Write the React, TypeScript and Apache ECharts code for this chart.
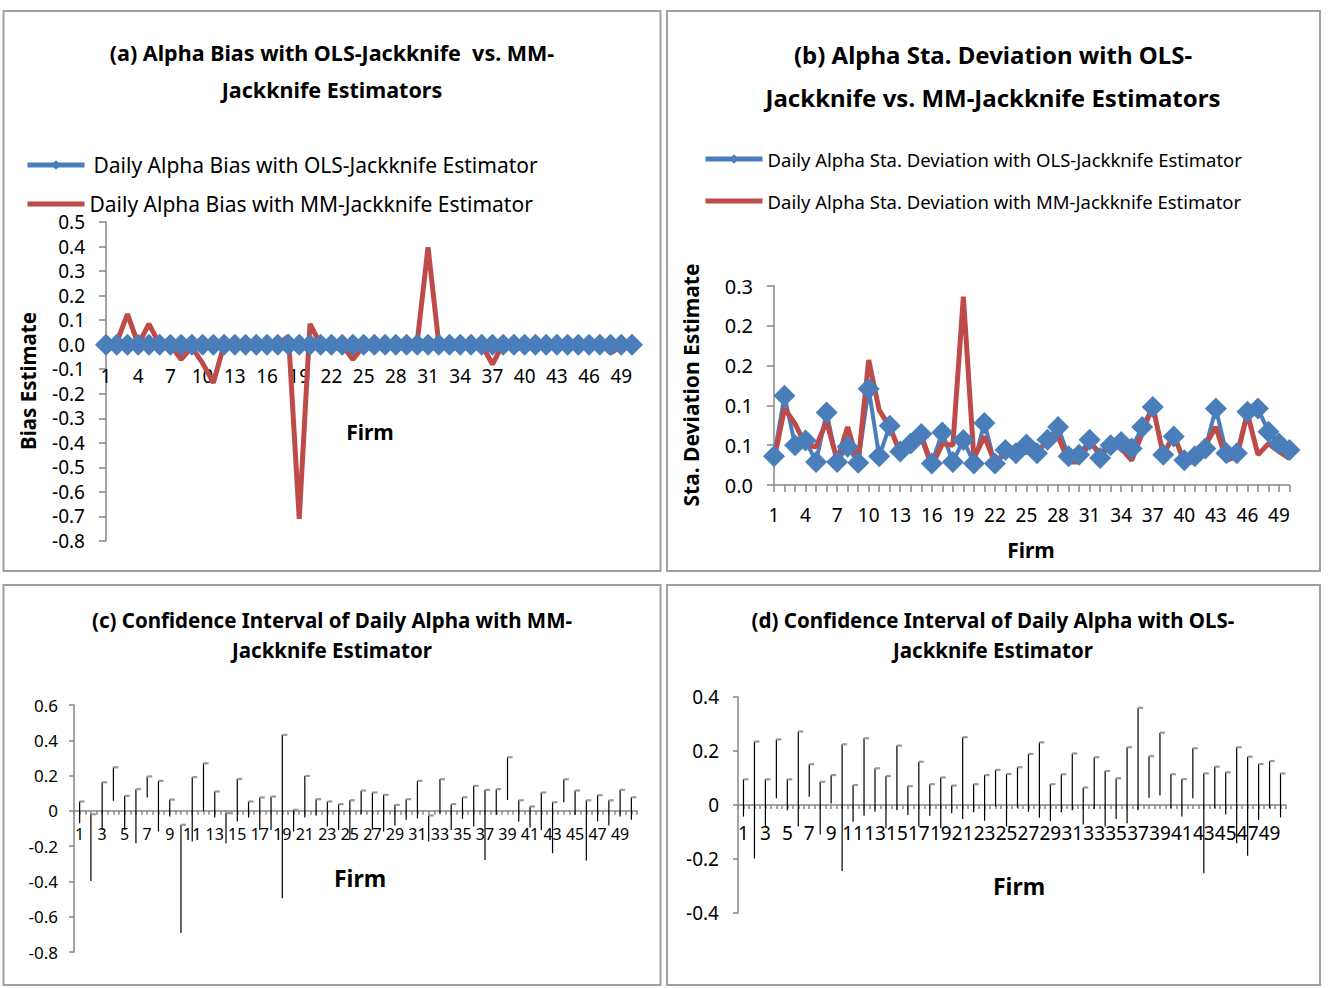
import React, { useEffect, useRef } from 'react';
import * as echarts from 'echarts';

const FONT = '"Noto Sans", "Open Sans", sans-serif';

const firms = Array.from({ length: 50 }, (_, i) => String(i + 1));

const nameA1 = 'Daily Alpha Bias with OLS-Jackknife Estimator';
const nameA2 = 'Daily Alpha Bias with MM-Jackknife Estimator';
const nameB1 = 'Daily Alpha Sta. Deviation with OLS-Jackknife Estimator';
const nameB2 = 'Daily Alpha Sta. Deviation with MM-Jackknife Estimator';

// (a) Alpha bias
const biasOLS = [
  0, 0, 0, 0, 0, 0, 0, 0, 0, 0,
  0, 0, 0, 0, 0, 0, 0, 0, 0, 0,
  0, 0, 0, 0, 0, 0, 0, 0, 0, 0,
  0, 0, 0, 0, 0, 0, 0, 0, 0, 0,
  0, 0, 0, 0, 0, 0, 0, 0, 0, 0,
];
const biasMM = [
  0.005, 0.01, 0.125, 0.0, 0.085, 0.0, 0.0, -0.06, -0.01, -0.075,
  -0.155, 0.0, 0.005, 0.015, 0.0, 0.0, 0.0, 0.035, -0.71, 0.085,
  0.0, 0.0, 0.0, -0.06, -0.005, 0.0, 0.0, 0.0, 0.0, 0.015,
  0.397, 0.005, 0.0, 0.0, 0.0, 0.0, -0.08, 0.005, 0.005, 0.005,
  0.016, -0.014, 0.003, 0.003, 0.003, -0.016, 0.007, -0.034, -0.007, 0.003,
];

// (b) Alpha standard deviation
const sdOLS = [
  0.036, 0.112, 0.05, 0.056, 0.029, 0.091, 0.029, 0.048, 0.028, 0.121,
  0.036, 0.0745, 0.042, 0.052, 0.064, 0.027, 0.066, 0.029, 0.0565, 0.027,
  0.078, 0.027, 0.044, 0.04, 0.051, 0.04, 0.057, 0.073, 0.036, 0.038,
  0.057, 0.034, 0.05, 0.054, 0.046, 0.073, 0.098, 0.038, 0.061, 0.031,
  0.036, 0.046, 0.096, 0.04, 0.04, 0.092, 0.096, 0.067, 0.052, 0.044,
];
const sdMM = [
  0.031, 0.096, 0.077, 0.05, 0.048, 0.08, 0.031, 0.073, 0.028, 0.157,
  0.094, 0.073, 0.04, 0.046, 0.061, 0.023, 0.052, 0.05, 0.2366, 0.0335,
  0.061, 0.028, 0.04, 0.049, 0.049, 0.04, 0.057, 0.061, 0.029, 0.029,
  0.054, 0.04, 0.05, 0.046, 0.031, 0.065, 0.1, 0.038, 0.063, 0.029,
  0.029, 0.05, 0.073, 0.031, 0.036, 0.09, 0.038, 0.052, 0.042, 0.0335,
];

// (c) CI with MM-Jackknife
const ciMMHigh = [
  0.053, -0.019, 0.162, 0.247, 0.085, 0.123, 0.195, 0.17, 0.064, -0.079,
  0.191, 0.27, 0.11, -0.013, 0.181, 0.053, 0.076, 0.081, 0.431, 0.006,
  0.198, 0.066, 0.053, 0.038, 0.06, 0.115, 0.104, 0.091, 0.034, 0.066,
  0.17, -0.026, 0.179, 0.038, 0.077, 0.142, 0.119, 0.123, 0.304, 0.06,
  0.025, 0.104, 0.049, 0.179, 0.115, 0.06, 0.089, 0.06, 0.119, 0.077,
];
const ciMMLow = [
  -0.07, -0.397, -0.108, 0.057, -0.108, -0.183, 0.076, -0.117, -0.032, -0.693,
  -0.174, 0.0, -0.038, -0.183, -0.06, -0.038, -0.108, -0.108, -0.495, -0.117,
  -0.038, -0.026, -0.089, -0.108, -0.164, -0.019, -0.108, -0.117, -0.083, -0.051,
  -0.042, -0.174, -0.013, -0.108, -0.045, -0.089, -0.278, -0.023, 0.062, -0.06,
  -0.094, -0.108, -0.24, 0.049, -0.023, -0.281, -0.06, -0.083, -0.032, -0.051,
];

// (d) CI with OLS-Jackknife
const ciOLSHigh = [
  0.095, 0.235, 0.095, 0.243, 0.095, 0.272, 0.151, 0.086, 0.111, 0.225,
  0.074, 0.247, 0.136, 0.107, 0.22, 0.07, 0.16, 0.077, 0.102, 0.072,
  0.251, 0.077, 0.111, 0.13, 0.115, 0.14, 0.189, 0.232, 0.077, 0.114,
  0.191, 0.065, 0.177, 0.126, 0.099, 0.214, 0.36, 0.181, 0.268, 0.114,
  0.096, 0.21, 0.117, 0.142, 0.121, 0.214, 0.179, 0.152, 0.163, 0.117,
];
const ciOLSLow = [
  -0.043, -0.198, -0.08, 0.025, -0.019, -0.08, 0.031, -0.109, 0.006, -0.244,
  -0.062, -0.04, -0.025, -0.086, -0.019, -0.037, -0.08, -0.04, -0.086, -0.031,
  -0.052, -0.027, -0.058, -0.006, -0.08, -0.01, -0.025, -0.047, -0.059, -0.027,
  -0.019, -0.072, -0.015, -0.08, -0.052, -0.068, -0.019, 0.027, 0.035, -0.012,
  -0.043, 0.025, -0.253, -0.012, -0.035, -0.142, -0.188, -0.056, -0.012, -0.046,
];

const BLUE = '#4A7EBB';
const RED = '#BE4B48';
const AXIS = '#868686';
// legend icon: a 5px-thick bar centred in a 12px-high box
const BAR_ICON =
  'path://M0,0L0.01,0L0,0.01Z M0,3.5L57,3.5L57,8.5L0,8.5Z M57,12L56.99,12L57,11.99Z';

const ciRender = (params: any, api: any) => {
  const i = api.value(0);
  const top = api.coord([i, api.value(1)]);
  const bot = api.coord([i, api.value(2)]);
  return {
    type: 'group',
    children: [
      {
        type: 'line',
        shape: { x1: top[0], y1: top[1], x2: bot[0], y2: bot[1] },
        style: { stroke: '#000', lineWidth: 1.2 },
      },
      {
        type: 'line',
        shape: { x1: top[0], y1: top[1], x2: top[0] + 5, y2: top[1] },
        style: { stroke: '#999', lineWidth: 2.2 },
      },
    ],
  };
};

const label = (size: number, extra: any = {}) => ({
  color: '#000',
  fontSize: size,
  fontFamily: FONT,
  ...extra,
});

export default function App() {
  const ref = useRef<HTMLDivElement>(null);
  useEffect(() => {
    const chart = echarts.init(ref.current!, null, { renderer: 'svg' });
    const axisLine = { lineStyle: { color: AXIS, width: 1.5 } };
    const tick = (len: number) => ({ show: true, length: len, lineStyle: { color: AXIS, width: 1.5 } });
    // grid geometry (used for placing the category axes on the zero line)
    const gA = { left: 106, top: 222, width: 526, height: 319 };
    const gB = { left: 774, top: 286, width: 515.5, height: 199 };
    const gC = { left: 74, top: 705, width: 563, height: 247 };
    const gD = { left: 738, top: 697, width: 548, height: 216 };
    const zeroOffset = (g: any, min: number, max: number) => -(g.height * (0 - min)) / (max - min);
    const offA = zeroOffset(gA, -0.8, 0.5);
    const offC = zeroOffset(gC, -0.8, 0.6);
    const offD = zeroOffset(gD, -0.4, 0.4);
    const option: any = {
      animation: false,
      backgroundColor: '#fff',
      textStyle: { fontFamily: FONT },
      grid: [gA, gB, gC, gD],
      legend: [
        {
          data: [
            { name: nameA1, textStyle: { padding: [0, 0, 0, 4] } },
            { name: nameA2, icon: BAR_ICON },
          ],
          orient: 'vertical',
          left: 25,
          top: 153,
          padding: 0,
          itemWidth: 57,
          itemHeight: 12,
          itemGap: 15,
          selectedMode: false,
          lineStyle: { width: 5 },
          textStyle: label(21, { lineHeight: 24 }),
        },
        {
          data: [nameB1, { name: nameB2, icon: BAR_ICON }],
          orient: 'vertical',
          left: 703,
          top: 149,
          padding: 0,
          itemWidth: 57,
          itemHeight: 12,
          itemGap: 22,
          selectedMode: false,
          lineStyle: { width: 5 },
          textStyle: label(18.5, { lineHeight: 20 }),
        },
      ],
      xAxis: [
        {
          gridIndex: 0, type: 'category', data: firms, boundaryGap: false, position: 'bottom', offset: offA,
          axisLine: { onZero: false, ...axisLine }, axisTick: { show: false },
          axisLabel: label(19, { interval: 2, margin: 22 }), splitLine: { show: false },
        },
        {
          gridIndex: 1, type: 'category', data: firms, boundaryGap: false, position: 'bottom',
          axisLine: { onZero: false, ...axisLine }, axisTick: { ...tick(7), interval: 0 },
          axisLabel: label(19, { interval: 2, margin: 20 }), splitLine: { show: false },
        },
        {
          gridIndex: 2, type: 'category', data: firms, boundaryGap: true, position: 'bottom', offset: offC,
          axisLine: { onZero: false, ...axisLine }, axisTick: { ...tick(4), interval: 0 },
          axisLabel: label(16, { interval: 1, margin: 15 }), splitLine: { show: false },
        },
        {
          gridIndex: 2, type: 'category', data: firms, boundaryGap: true, position: 'bottom', offset: offC,
          axisLine: { onZero: false, show: false }, axisTick: { ...tick(4), interval: 0, alignWithLabel: true },
          axisLabel: { show: false }, splitLine: { show: false },
        },
        {
          gridIndex: 3, type: 'category', data: firms, boundaryGap: true, position: 'bottom', offset: offD,
          axisLine: { onZero: false, ...axisLine }, axisTick: { ...tick(4), interval: 0 },
          axisLabel: label(19, { interval: 1, margin: 18 }), splitLine: { show: false },
        },
        {
          gridIndex: 3, type: 'category', data: firms, boundaryGap: true, position: 'bottom', offset: offD,
          axisLine: { onZero: false, show: false }, axisTick: { ...tick(4), interval: 0, alignWithLabel: true },
          axisLabel: { show: false }, splitLine: { show: false },
        },
      ],
      yAxis: [
        {
          gridIndex: 0, type: 'value', min: -0.8, max: 0.5, interval: 0.1,
          axisLine: { show: true, ...axisLine }, axisTick: tick(7),
          axisLabel: label(19, { margin: 21, formatter: (v: number) => v.toFixed(1) }),
          splitLine: { show: false },
        },
        {
          gridIndex: 1, type: 'value', min: 0, max: 0.25, interval: 0.05,
          axisLine: { show: true, ...axisLine }, axisTick: tick(7),
          axisLabel: label(20, {
            margin: 21,
            formatter: (v: number) => (Math.round(v * 10 + 1e-9) / 10).toFixed(1),
          }),
          splitLine: { show: false },
        },
        {
          gridIndex: 2, type: 'value', min: -0.8, max: 0.6, interval: 0.2,
          axisLine: { show: true, ...axisLine }, axisTick: tick(5),
          axisLabel: label(17, { margin: 16 }),
          splitLine: { show: false },
        },
        {
          gridIndex: 3, type: 'value', min: -0.4, max: 0.4, interval: 0.2,
          axisLine: { show: true, ...axisLine }, axisTick: tick(5),
          axisLabel: label(19, { margin: 19 }),
          splitLine: { show: false },
        },
      ],
      series: [
        {
          name: nameA1, type: 'line', xAxisIndex: 0, yAxisIndex: 0, data: biasOLS,
          color: BLUE, symbol: 'diamond', symbolSize: 22, showAllSymbol: true,
          lineStyle: { width: 4, color: BLUE }, itemStyle: { color: BLUE, borderWidth: 0 },
        },
        {
          name: nameA2, type: 'line', xAxisIndex: 0, yAxisIndex: 0, data: biasMM,
          color: RED, symbol: 'none', lineStyle: { width: 5, color: RED }, itemStyle: { color: RED },
        },
        {
          name: nameB1, type: 'line', xAxisIndex: 1, yAxisIndex: 1, data: sdOLS,
          color: BLUE, symbol: 'diamond', symbolSize: 22, showAllSymbol: true,
          lineStyle: { width: 4, color: BLUE }, itemStyle: { color: BLUE, borderWidth: 0 },
        },
        {
          name: nameB2, type: 'line', xAxisIndex: 1, yAxisIndex: 1, data: sdMM,
          color: RED, symbol: 'none', lineStyle: { width: 5, color: RED }, itemStyle: { color: RED },
        },
        {
          name: 'CI MM', type: 'custom', xAxisIndex: 2, yAxisIndex: 2,
          data: firms.map((_, i) => [i, ciMMHigh[i], ciMMLow[i]]),
          encode: { x: 0, y: [1, 2] }, renderItem: ciRender,
        },
        {
          name: 'CI OLS', type: 'custom', xAxisIndex: 4, yAxisIndex: 3,
          data: firms.map((_, i) => [i, ciOLSHigh[i], ciOLSLow[i]]),
          encode: { x: 0, y: [1, 2] }, renderItem: ciRender,
        },
      ],
      graphic: [
        { type: 'rect', shape: { x: 3.5, y: 11, width: 657, height: 560 }, style: { fill: 'none', stroke: '#A0A0A0', lineWidth: 2 } },
        { type: 'rect', shape: { x: 667, y: 11, width: 653, height: 560 }, style: { fill: 'none', stroke: '#A0A0A0', lineWidth: 2 } },
        { type: 'rect', shape: { x: 3.5, y: 585, width: 657, height: 400 }, style: { fill: 'none', stroke: '#A0A0A0', lineWidth: 2 } },
        { type: 'rect', shape: { x: 667, y: 585, width: 653, height: 400 }, style: { fill: 'none', stroke: '#A0A0A0', lineWidth: 2 } },
        {
          type: 'text', x: 332, y: 70.5,
          style: { text: '(a) Alpha Bias with OLS-Jackknife  vs. MM-\nJackknife Estimators', fill: '#000', font: `bold 21.5px ${FONT}`, align: 'center', verticalAlign: 'middle', lineHeight: 37 },
        },
        {
          type: 'text', x: 993, y: 75.5,
          style: { text: '(b) Alpha Sta. Deviation with OLS-\nJackknife vs. MM-Jackknife Estimators', fill: '#000', font: `bold 24px ${FONT}`, align: 'center', verticalAlign: 'middle', lineHeight: 43 },
        },
        {
          type: 'text', x: 332, y: 635,
          style: { text: '(c) Confidence Interval of Daily Alpha with MM-\nJackknife Estimator', fill: '#000', font: `bold 20.5px ${FONT}`, align: 'center', verticalAlign: 'middle', lineHeight: 30 },
        },
        {
          type: 'text', x: 993, y: 635,
          style: { text: '(d) Confidence Interval of Daily Alpha with OLS-\nJackknife Estimator', fill: '#000', font: `bold 20.5px ${FONT}`, align: 'center', verticalAlign: 'middle', lineHeight: 30 },
        },
        {
          type: 'text', x: 28, y: 381, rotation: Math.PI / 2,
          style: { text: 'Bias Estimate', fill: '#000', font: `bold 20.5px ${FONT}`, align: 'center', verticalAlign: 'middle' },
        },
        {
          type: 'text', x: 691, y: 385, rotation: Math.PI / 2,
          style: { text: 'Sta. Deviation Estimate', fill: '#000', font: `bold 21px ${FONT}`, align: 'center', verticalAlign: 'middle' },
        },
        { type: 'text', x: 370, y: 432, style: { text: 'Firm', fill: '#000', font: `bold 21px ${FONT}`, align: 'center', verticalAlign: 'middle' } },
        { type: 'text', x: 1031, y: 550, style: { text: 'Firm', fill: '#000', font: `bold 21px ${FONT}`, align: 'center', verticalAlign: 'middle' } },
        { type: 'text', x: 360, y: 878, style: { text: 'Firm', fill: '#000', font: `bold 23px ${FONT}`, align: 'center', verticalAlign: 'middle' } },
        { type: 'text', x: 1019, y: 886, style: { text: 'Firm', fill: '#000', font: `bold 23px ${FONT}`, align: 'center', verticalAlign: 'middle' } },
      ],
    };
    chart.setOption(option);
    return () => chart.dispose();
  }, []);
  return (
    <div
      ref={ref}
      style={{ position: 'absolute', left: 0, top: 0, width: 1340, height: 988, background: '#fff' }}
    />
  );
}
